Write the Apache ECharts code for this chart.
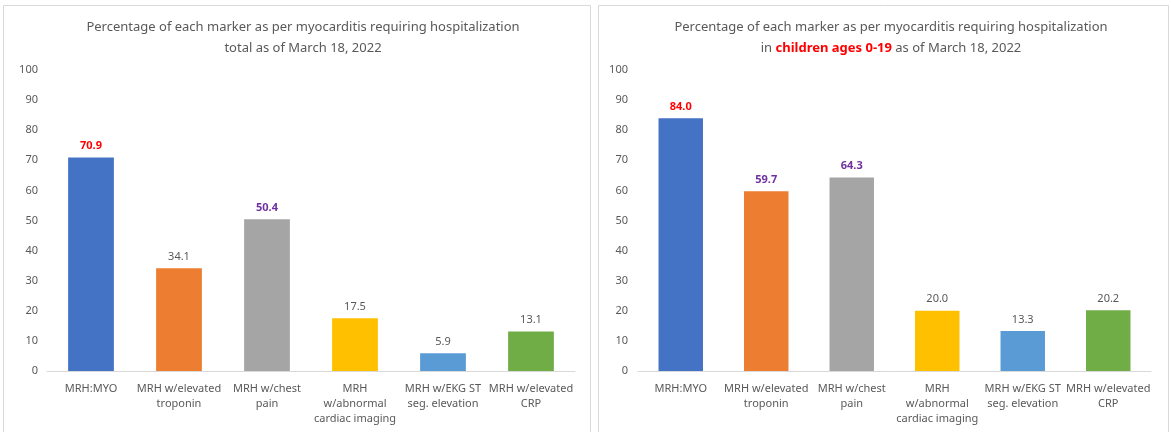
<!DOCTYPE html>
<html>
<head>
<meta charset="utf-8">
<script src="https://cdn.jsdelivr.net/npm/echarts@6/dist/echarts.min.js"></script>
<style>
  html, body { margin: 0; padding: 0; background: #fff; }
  #chart { width: 1171px; height: 432px; }
</style>
</head>
<body>
<div id="chart"></div>
<script>
const CATEGORIES = [
  'MRH:MYO',
  'MRH w/elevated\ntroponin',
  'MRH w/chest\npain',
  'MRH\nw/abnormal\ncardiac imaging',
  'MRH w/EKG ST\nseg. elevation',
  'MRH w/elevated\nCRP',
];
const TOTAL_VALUES = [70.9, 34.1, 50.4, 17.5, 5.9, 13.1];
const CHILD_VALUES = [84.0, 59.7, 64.3, 20.0, 13.3, 20.2];
const BAR_COLORS = ['#4472C4', '#ED7D31', '#A5A5A5', '#FFC000', '#5B9BD5', '#70AD47'];
// label emphasis per bar: 'red', 'purple' or null (plain grey)
const TOTAL_LABEL_STYLE = ['red', null, 'purple', null, null, null];
const CHILD_LABEL_STYLE = ['red', 'purple', 'purple', null, null, null];
const Y_TICKS = { min: 0, max: 100, interval: 10 };

const FONT = 'Noto Sans';
const TEXT = '#595959';
const LABEL_COLORS = { red: '#FF0000', purple: '#7030A0' };

function barData(values, styles) {
  return values.map((v, i) => ({
    value: v,
    itemStyle: { color: BAR_COLORS[i] },
    label: styles[i]
      ? { color: LABEL_COLORS[styles[i]], fontWeight: 'bold' }
      : { color: TEXT, fontWeight: 'normal' },
  }));
}

const xAxisBase = {
  type: 'category',
  data: CATEGORIES,
  axisLine: { lineStyle: { color: '#D9D9D9', width: 1 } },
  axisTick: { show: false },
  axisLabel: { color: TEXT, fontFamily: FONT, fontSize: 11, lineHeight: 15, interval: 0, margin: 10 },
};

const yAxisBase = {
  type: 'value',
  ...Y_TICKS,
  axisLine: { show: false },
  axisTick: { show: false },
  splitLine: { show: false },
  axisLabel: { color: TEXT, fontFamily: FONT, fontSize: 11, margin: 9 },
};

const seriesBase = {
  type: 'bar',
  barWidth: '52%',
  label: {
    show: true, position: 'top', distance: 6,
    fontFamily: FONT, fontSize: 11,
    formatter: p => Number(p.value).toFixed(1),
  },
};

const titleStyle = { color: TEXT, fontFamily: FONT, fontSize: 13, fontWeight: 'normal', lineHeight: 21 };

const c = echarts.init(document.getElementById('chart'), null, { renderer: 'canvas' });
c.setOption({
  animation: false,
  backgroundColor: '#fff',
  title: [
    {
      text: 'Percentage of each marker as per myocarditis requiring hospitalization\ntotal as of March 18, 2022',
      left: 298, top: 12, textAlign: 'center',
      textStyle: titleStyle,
    },
    {
      text: '{a|Percentage of each marker as per myocarditis requiring hospitalization}\n{a|in }{r|children ages 0-19}{a| as of March 18, 2022}',
      left: 886, top: 12, textAlign: 'center',
      textStyle: {
        ...titleStyle,
        rich: {
          a: titleStyle,
          r: { ...titleStyle, color: '#FF0000', fontWeight: 'bold' },
        },
      },
    },
  ],
  graphic: [
    { type: 'rect', shape: { x: 3.5, y: 5.5, width: 587, height: 440 }, style: { fill: 'none', stroke: '#D9D9D9', lineWidth: 1 } },
    { type: 'rect', shape: { x: 598.5, y: 5.5, width: 570, height: 440 }, style: { fill: 'none', stroke: '#D9D9D9', lineWidth: 1 } },
  ],
  grid: [
    { left: 47, top: 70, width: 528, height: 301 },
    { left: 638, top: 70, width: 513, height: 301 },
  ],
  xAxis: [
    { ...xAxisBase, gridIndex: 0 },
    { ...xAxisBase, gridIndex: 1 },
  ],
  yAxis: [
    { ...yAxisBase, gridIndex: 0 },
    { ...yAxisBase, gridIndex: 1, axisLabel: { ...yAxisBase.axisLabel, margin: 10 } },
  ],
  series: [
    { ...seriesBase, xAxisIndex: 0, yAxisIndex: 0, data: barData(TOTAL_VALUES, TOTAL_LABEL_STYLE) },
    { ...seriesBase, xAxisIndex: 1, yAxisIndex: 1, data: barData(CHILD_VALUES, CHILD_LABEL_STYLE) },
  ],
});
</script>
</body>
</html>
